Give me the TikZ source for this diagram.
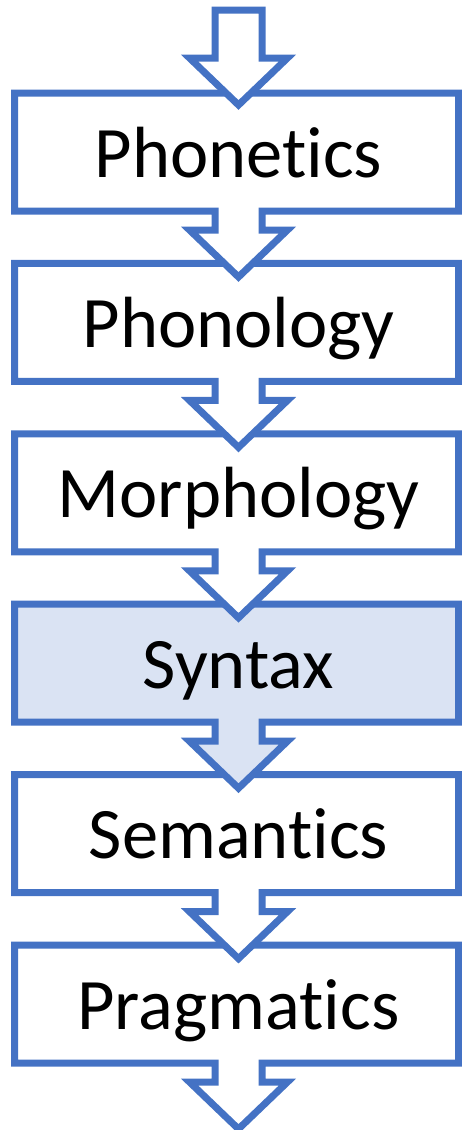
\documentclass[tikz,border=0pt]{standalone}
\usepackage{fontspec}
\setmainfont{Carlito}[Ligatures={NoCommon,NoRare,NoContextual}]
\definecolor{stepblue}{HTML}{4472C4}
\definecolor{synfill}{HTML}{DAE3F3}
\tikzset{
  stepshape/.style={draw=stepblue, line width=7pt, miter limit=10},
  steplabel/.style={anchor=base, inner sep=0pt, text=black, font=\fontsize{72.5}{80}\selectfont}
}
\begin{document}
\begin{tikzpicture}[x=1pt,y=-1pt]
\useasboundingbox (0,0) rectangle (462,1130);
\def\L{14.5}\def\R{458.5}\def\cx{238.5}
% boxes with their arrows, drawn from bottom to top
\foreach \i/\fc in {5/white,4/white,3/synfill,2/white,1/white,0/white}{
  \pgfmathsetmacro{\T}{93+170.4*\i}
  \pgfmathsetmacro{\B}{\T+118}
  \pgfmathsetmacro{\W}{\B+19}
  \pgfmathsetmacro{\P}{\B+66}
  \path[stepshape, fill=\fc]
    (\L,\T) -- (\R,\T) -- (\R,\B) -- (\cx+23.5,\B) -- (\cx+23.5,\W) -- (\cx+49,\W)
    -- (\cx,\P) -- (\cx-49,\W) -- (\cx-23.5,\W) -- (\cx-23.5,\B) -- (\L,\B) -- cycle;
}
% top entry arrow
\path[stepshape, fill=white]
  (\cx-23.5,10) -- (\cx+23.5,10) -- (\cx+23.5,58) -- (\cx+49,58) -- (\cx,105)
  -- (\cx-49,58) -- (\cx-23.5,58) -- cycle;
% labels
\foreach \i/\name in {0/Phonetics,1/Phonology,2/Morphology,3/Syntax,4/Semantics,5/Pragmatics}{
  \pgfmathsetmacro{\Y}{93+170.4*\i+84}
  \node[steplabel] (lab\i) at (\cx,\Y) {\name};
}
\end{tikzpicture}
\end{document}
